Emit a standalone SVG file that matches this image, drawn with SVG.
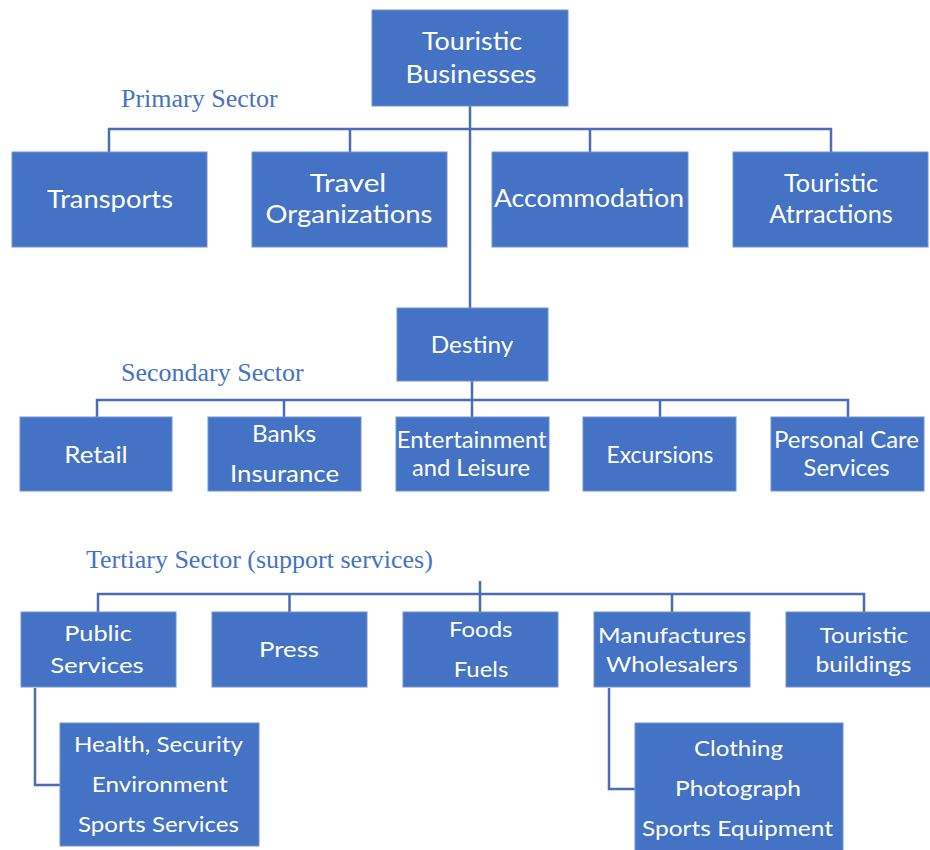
<svg xmlns="http://www.w3.org/2000/svg" width="930" height="850" viewBox="0 0 930 850">
<style>
.box{fill:#4472C4;stroke:#6f93d3;stroke-width:1}
.t{font-family:Lato,"Open Sans","Liberation Sans",sans-serif;fill:#ffffff;text-anchor:middle}
.s25{font-size:25px}.s23{font-size:23px}.s22{font-size:22px}.s21{font-size:21px}
.lbl{font-family:"Liberation Serif","Times New Roman",serif;font-size:26px;fill:#4472C4}
.c{fill:none;stroke:#4a6db3;stroke-width:2.5}
</style>
<rect width="930" height="850" fill="#ffffff"/>
<g id="connectors" class="c">
<path d="M470 106V308"/>
<path d="M109 152V129H831V152M350 129V152M590 129V152"/>
<path d="M472 381V417M97 417V400H848V417M284 400V417M660 400V417"/>
<path d="M480 581V612M98 612V594H864V612M289.5 594V612M672 594V612"/>
<path d="M35 688V785H60"/>
<path d="M609 688V789H635"/>
</g>
<g id="label-primary"><text class="lbl" x="121" y="107">Primary Sector</text></g>
<g id="label-secondary"><text class="lbl" x="121" y="381">Secondary Sector</text></g>
<g id="label-tertiary"><text class="lbl" x="86" y="568">Tertiary Sector (support services)</text></g>

<g id="touristic-businesses"><rect class="box" x="372" y="10" width="196" height="96"/>
<text class="t s25" x="472" y="50" textLength="100" lengthAdjust="spacingAndGlyphs">Touristic</text>
<text class="t s25" x="471" y="83" textLength="131" lengthAdjust="spacingAndGlyphs">Businesses</text></g>

<g id="transports"><rect class="box" x="12" y="152" width="195" height="95"/>
<text class="t s25" x="110" y="208" textLength="126" lengthAdjust="spacingAndGlyphs">Transports</text></g>
<g id="travel-organizations"><rect class="box" x="252" y="152" width="195" height="95"/>
<text class="t s25" x="348" y="192" textLength="76.5" lengthAdjust="spacingAndGlyphs">Travel</text>
<text class="t s25" x="349" y="223" textLength="167" lengthAdjust="spacingAndGlyphs">Organizations</text></g>
<g id="accommodation"><rect class="box" x="492" y="152" width="196" height="95"/>
<text class="t s25" x="589" y="207" textLength="190" lengthAdjust="spacingAndGlyphs">Accommodation</text></g>
<g id="touristic-attractions"><rect class="box" x="733" y="152" width="195" height="95"/>
<text class="t s25" x="831" y="192" textLength="94" lengthAdjust="spacingAndGlyphs">Touristic</text>
<text class="t s25" x="831" y="223" textLength="123.5" lengthAdjust="spacingAndGlyphs">Atrractions</text></g>

<g id="destiny"><rect class="box" x="397" y="308" width="151" height="73"/>
<text class="t s23" x="472" y="353" textLength="82.6" lengthAdjust="spacingAndGlyphs">Destiny</text></g>

<g id="retail"><rect class="box" x="20" y="417" width="152" height="74"/>
<text class="t s23" x="96" y="463" textLength="63.5" lengthAdjust="spacingAndGlyphs">Retail</text></g>
<g id="banks-insurance"><rect class="box" x="208" y="417" width="153" height="74"/>
<text class="t s23" x="284" y="442" textLength="64" lengthAdjust="spacingAndGlyphs">Banks</text>
<text class="t s23" x="284.5" y="482" textLength="109" lengthAdjust="spacingAndGlyphs">Insurance</text></g>
<g id="entertainment-leisure"><rect class="box" x="396" y="417" width="153" height="74"/>
<text class="t s23" x="471.7" y="448" textLength="150" lengthAdjust="spacingAndGlyphs">Entertainment</text>
<text class="t s23" x="471" y="476" textLength="118" lengthAdjust="spacingAndGlyphs">and Leisure</text></g>
<g id="excursions"><rect class="box" x="583" y="417" width="153" height="74"/>
<text class="t s23" x="660" y="463" textLength="107" lengthAdjust="spacingAndGlyphs">Excursions</text></g>
<g id="personal-care"><rect class="box" x="771" y="417" width="153" height="74"/>
<text class="t s23" x="846.5" y="448" textLength="145" lengthAdjust="spacingAndGlyphs">Personal Care</text>
<text class="t s23" x="846.6" y="476" textLength="86" lengthAdjust="spacingAndGlyphs">Services</text></g>

<g id="public-services"><rect class="box" x="21" y="612" width="155" height="75"/>
<text class="t s22" x="98" y="641" textLength="67.6" lengthAdjust="spacingAndGlyphs">Public</text>
<text class="t s22" x="97" y="673" textLength="93.7" lengthAdjust="spacingAndGlyphs">Services</text></g>
<g id="press"><rect class="box" x="212" y="612" width="155" height="75"/>
<text class="t s22" x="289" y="657" textLength="60" lengthAdjust="spacingAndGlyphs">Press</text></g>
<g id="foods-fuels"><rect class="box" x="403" y="612" width="155" height="75"/>
<text class="t s22" x="480.7" y="637" textLength="63.5" lengthAdjust="spacingAndGlyphs">Foods</text>
<text class="t s22" x="481" y="677" textLength="54.6" lengthAdjust="spacingAndGlyphs">Fuels</text></g>
<g id="manufactures-wholesalers"><rect class="box" x="594" y="612" width="156" height="75"/>
<text class="t s22" x="672" y="643" textLength="148" lengthAdjust="spacingAndGlyphs">Manufactures</text>
<text class="t s22" x="672" y="672" textLength="131.8" lengthAdjust="spacingAndGlyphs">Wholesalers</text></g>
<g id="touristic-buildings"><rect class="box" x="786" y="612" width="150" height="75"/>
<text class="t s22" x="864" y="643" textLength="88.4" lengthAdjust="spacingAndGlyphs">Touristic</text>
<text class="t s22" x="863.5" y="672" textLength="96" lengthAdjust="spacingAndGlyphs">buildings</text></g>

<g id="health-security"><rect class="box" x="60" y="723" width="199" height="123"/>
<text class="t s21" x="158.5" y="752" textLength="169" lengthAdjust="spacingAndGlyphs">Health, Security</text>
<text class="t s21" x="159.7" y="792" textLength="136" lengthAdjust="spacingAndGlyphs">Environment</text>
<text class="t s21" x="158.5" y="832" textLength="161" lengthAdjust="spacingAndGlyphs">Sports Services</text></g>
<g id="clothing-photograph"><rect class="box" x="635" y="723" width="208" height="130"/>
<text class="t s21" x="738.5" y="756" textLength="89" lengthAdjust="spacingAndGlyphs">Clothing</text>
<text class="t s21" x="738" y="796" textLength="126" lengthAdjust="spacingAndGlyphs">Photograph</text>
<text class="t s21" x="737.5" y="836" textLength="191" lengthAdjust="spacingAndGlyphs">Sports Equipment</text></g>
</svg>
